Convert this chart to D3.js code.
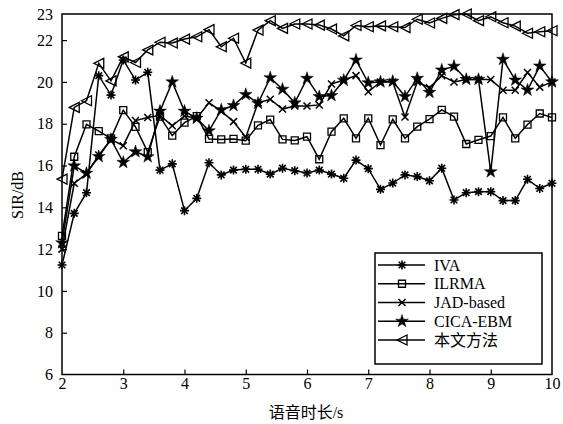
<!DOCTYPE html>
<html><head><meta charset="utf-8">
<script src="https://cdn.jsdelivr.net/npm/d3@7"></script>
<style>body{margin:0;background:#fff}svg{display:block}</style>
</head><body><svg id="c" width="563" height="424"></svg>
<script>
const durations = [2.0,2.2,2.4,2.6,2.8,3.0,3.2,3.4,3.6,3.8,4.0,4.2,4.4,4.6,4.8,5.0,5.2,5.4,5.6,5.8,6.0,
  6.2,6.4,6.6,6.8,7.0,7.2,7.4,7.6,7.8,8.0,8.2,8.4,8.6,8.8,9.0,9.2,9.4,9.6,9.8,10.0];
const iva = [11.24,13.71,14.7,20.3,19.37,21.05,20.09,20.46,15.78,16.08,13.84,14.43,16.13,15.55,15.78,15.82,
  15.82,15.59,15.87,15.75,15.64,15.78,15.59,15.39,16.26,15.85,14.86,15.16,15.55,15.47,15.27,15.87,
  14.35,14.7,14.75,14.75,14.32,14.32,15.34,14.9,15.15];
const ilrma = [12.63,16.42,17.97,17.65,17.3,18.65,17.85,16.64,18.34,17.43,18.05,18.36,17.27,17.25,17.27,17.19,
  17.92,18.2,17.25,17.2,17.38,16.3,17.62,18.26,17.3,18.26,16.98,18.21,17.3,17.86,18.22,18.66,
  18.34,17.03,17.23,17.41,18.3,17.3,17.96,18.49,18.3];
const jad = [12.0,15.15,15.6,16.5,17.25,16.95,18.15,18.3,18.4,17.9,18.37,18.26,19.0,18.6,18.1,17.35,
  19.0,19.17,18.7,18.85,18.85,18.9,19.9,20.09,20.3,19.53,20.0,20.0,18.32,20.0,19.72,20.3,
  20.0,20.12,20.12,20.12,19.6,19.6,20.45,19.75,20.0];
const cica = [12.3,15.98,15.63,16.43,17.25,16.15,16.66,16.42,18.6,20.0,18.6,18.26,17.66,18.66,18.87,19.4,
  18.98,20.2,19.65,19.0,20.17,19.3,19.35,20.08,21.05,19.96,20.0,20.03,19.3,20.17,19.5,20.57,
  20.75,20.12,20.12,15.7,21.08,20.09,19.61,20.76,20.0];
const proposed = [15.35,18.78,19.1,20.89,20.05,21.2,20.93,21.53,21.9,21.86,22.05,22.16,22.5,21.68,22.09,20.9,
  22.48,22.93,22.56,22.77,22.77,22.72,22.53,22.2,22.7,22.64,22.68,22.64,22.6,23.0,22.82,23.04,
  23.22,23.25,22.93,23.12,22.83,22.67,22.33,22.4,22.45];
const seriesNames = ["IVA","ILRMA","JAD-based","CICA-EBM","本文方法"];
const xTicks = [2,3,4,5,6,7,8,9,10];
const yTicks = [6,8,10,12,14,16,18,20,22,23.25];
const xLabel = "语音时长/s";
const yLabel = "SIR/dB";

const series = [iva, ilrma, jad, cica, proposed].map((vals, i) => ({
  name: seriesNames[i], pts: vals.map((v, j) => [durations[j], v])
}));

const svg = d3.select("#c");
const FONT = "'Liberation Serif','Times New Roman',serif";
const x = d3.scaleLinear().domain([2, 10]).range([62, 552]);
const y = d3.scaleLinear().domain([6, 23.25]).range([374.5, 14]);

const markerDefs = [
  {d: "M0,-4.5V4.5M-4.5,0H4.5M-3.3,-3.3L3.3,3.3M-3.3,3.3L3.3,-3.3", fill: "none", sw: 1.6},
  {d: "M-3.5,-3.5H3.5V3.5H-3.5Z", fill: "none", sw: 1.3},
  {d: "M-3.5,-3.5L3.5,3.5M-3.5,3.5L3.5,-3.5", fill: "none", sw: 1.5},
  {d: d3.symbol(d3.symbolStar, 50)(), fill: "#000", sw: 0.5},
  {d: "M-5,0L5,-5L5,5Z", fill: "none", sw: 1.3}
];

const line = d3.line().x(d => x(d[0])).y(d => y(d[1]));
series.forEach((s, i) => {
  const g = svg.append("g");
  g.append("path").attr("d", line(s.pts)).attr("fill", "none")
    .attr("stroke", "#000").attr("stroke-width", 1.5).attr("stroke-linejoin", "miter");
  g.selectAll("path.m").data(s.pts).join("path").attr("class", "m")
    .attr("d", markerDefs[i].d)
    .attr("transform", d => `translate(${x(d[0])},${y(d[1])})`)
    .attr("fill", markerDefs[i].fill).attr("stroke", "#000")
    .attr("stroke-width", markerDefs[i].sw);
});

const xAxis = svg.append("g").attr("transform", "translate(0,374.5)")
  .call(d3.axisBottom(x).tickValues(xTicks).tickSizeInner(-5).tickSizeOuter(0).tickPadding(3).tickFormat(d3.format("d")));
const yAxis = svg.append("g").attr("transform", "translate(62,0)")
  .call(d3.axisLeft(y).tickValues(yTicks).tickSizeInner(-5).tickSizeOuter(0).tickPadding(9)
    .tickFormat(d => d > 23 ? "23" : d3.format("d")(d)));
[xAxis, yAxis].forEach(a => {
  a.selectAll("text").attr("font-family", FONT).attr("font-size", 16).attr("fill", "#000");
  a.selectAll("line").attr("stroke", "#000").attr("stroke-width", 1.2);
  a.select(".domain").remove();
});
xAxis.selectAll(".tick").filter(d => d === 2 || d === 10).select("line").remove();
yAxis.selectAll(".tick").filter(d => d === 6 || d > 23).select("line").remove();

svg.append("rect").attr("x", 62).attr("y", 14).attr("width", 490).attr("height", 360.5)
  .attr("fill", "none").attr("stroke", "#000").attr("stroke-width", 1.5);

svg.append("text").attr("x", 306).attr("y", 418).attr("text-anchor", "middle")
  .attr("font-family", "'Liberation Serif','Noto Sans CJK SC',serif").attr("font-size", 16).text(xLabel);
svg.append("text").attr("transform", "translate(23,195) rotate(-90)").attr("text-anchor", "middle")
  .attr("font-family", FONT).attr("font-size", 16).text(yLabel);

const lg = svg.append("g");
lg.append("rect").attr("x", 375).attr("y", 253).attr("width", 167).attr("height", 111)
  .attr("fill", "#fff").attr("stroke", "#000").attr("stroke-width", 1.5);
const rowY = d3.scalePoint().domain(seriesNames).range([265, 340]);
seriesNames.forEach((n, i) => {
  const yy = rowY(n);
  lg.append("line").attr("x1", 378).attr("x2", 425).attr("y1", yy).attr("y2", yy)
    .attr("stroke", "#000").attr("stroke-width", 1.5);
  lg.append("path").attr("d", markerDefs[i].d).attr("transform", `translate(402,${yy})`)
    .attr("fill", markerDefs[i].fill).attr("stroke", "#000").attr("stroke-width", markerDefs[i].sw);
  lg.append("text").attr("x", 434).attr("y", yy).attr("dy", "0.35em")
    .attr("font-family", "'Liberation Serif','Noto Sans CJK SC',serif").attr("font-size", 16).text(n);
});
</script></body></html>
